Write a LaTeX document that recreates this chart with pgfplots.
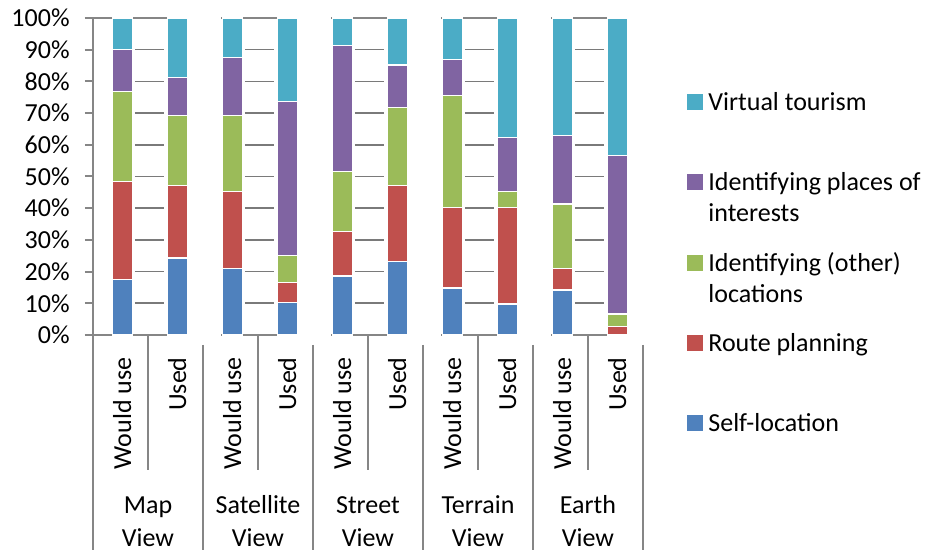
\documentclass[border=0pt]{standalone}
\usepackage{fontspec}
\setmainfont{Carlito}
\usepackage{pgfplots}
\usepackage{pgfplotstable}
\pgfplotsset{compat=1.18}
\definecolor{cSelf}{HTML}{4F81BD}
\definecolor{cRoute}{HTML}{C0504D}
\definecolor{cOther}{HTML}{9BBB59}
\definecolor{cPlaces}{HTML}{8064A2}
\definecolor{cVirtual}{HTML}{4BACC6}
\definecolor{axgray}{HTML}{868686}
\definecolor{gridgray}{HTML}{7A7A7A}
\pgfplotstableread{
x     self  route other places virtual
0.53  17.4  31.0  28.5  13.1   10.0
1.53  24.3  22.8  22.1  12.1   18.7
2.53  21.1  24.1  24.0  18.4   12.4
3.53  10.3   6.3   8.4  48.7   26.3
4.53  18.6  14.1  18.8  39.8    8.7
5.53  23.1  24.0  24.7  13.4   14.8
6.53  14.8  25.5  35.2  11.4   13.1
7.53   9.8  30.5   4.9  17.2   37.6
8.53  14.2   6.9  20.2  21.6   37.1
9.53   0.0   2.6   4.0  50.0   43.4
}\data
\newcommand{\lf}{\fontsize{13pt}{15.6pt}\selectfont}
\begin{document}
\begin{tikzpicture}[font=\lf]
\useasboundingbox (0,0) rectangle (464pt,275pt);
\begin{axis}[
  at={(46.5pt,107.5pt)}, anchor=south west,
  scale only axis, width=275pt, height=158.5pt,
  xmin=0, xmax=10, ymin=0, ymax=100,
  enlargelimits=false, clip=false,
  ybar stacked, bar width=0.364, bar shift=0pt,
  axis x line*=bottom, axis y line*=left,
  axis line style={draw=none},
  xtick={0.53,1.53,2.53,3.53,4.53,5.53,6.53,7.53,8.53,9.53},
  xticklabels={Would use,Used,Would use,Used,Would use,Used,Would use,Used,Would use,Used},
  xtick style={draw=none},
  xticklabel style={rotate=90, anchor=east, inner sep=0pt, font=\lf},
  xticklabel shift=7pt,
  ytick={0,10,...,100},
  yticklabel={\pgfmathprintnumber{\tick}\%},
  /pgf/number format/assume math mode=true,
  ytick style={draw=axgray, line width=1pt},
  tick align=outside, major tick length=4pt,
  yticklabel style={inner sep=0pt, font=\lf},
  yticklabel shift=7.5pt,
  every axis plot/.append style={draw=white, line width=0.6pt},
  legend image code/.code={\path[#1, draw=none] (0pt,0pt) rectangle (8pt,8pt);},
  reverse legend,
  legend style={draw=none, fill=none, at={(1.08,0.767)}, anchor=north west,
    inner sep=0pt, row sep=0pt, column sep=2.5pt,
    nodes={inner sep=0pt, text depth=31pt},
    cells={anchor=base west}, font=\lf},
]
\addplot[fill=cSelf] table[x=x, y=self] {\data};
\addlegendentry{\parbox[t]{125pt}{Self-location}}
\addplot[fill=cRoute] table[x=x, y=route] {\data};
\addlegendentry{\parbox[t]{125pt}{Route planning}}
\addplot[fill=cOther] table[x=x, y=other] {\data};
\addlegendentry{\parbox[t]{125pt}{Identifying (other)\\locations}}
\addplot[fill=cPlaces] table[x=x, y=places] {\data};
\addlegendentry{\parbox[t]{125pt}{Identifying places of\\interests}}
\addplot[fill=cVirtual] table[x=x, y=virtual] {\data};
\addlegendentry{\parbox[t]{125pt}{Virtual tourism}}
% axis and category lines
\draw[axgray, line width=1pt] (axis cs:0,100) -- (axis cs:0,-67.8);
\pgfplotsinvokeforeach{2,4,6,8,10}{
  \draw[axgray, line width=0.8pt] (axis cs:#1,-3.15) -- (axis cs:#1,-67.8);
}
\pgfplotsinvokeforeach{1,3,5,7,9}{
  \draw[axgray, line width=0.8pt] (axis cs:#1,0) -- (axis cs:#1,-42.6);
}
\draw[axgray, line width=1pt] (axis cs:-0.15,0) -- (axis cs:1.72,0);
\draw[axgray, line width=1.4pt] (axis cs:-0.15,100) -- (axis cs:1.72,100);
\pgfplotsinvokeforeach{2,4,6,8}{
  \draw[axgray, line width=1pt] (axis cs:#1+0.33,0) -- (axis cs:#1+1.72,0);
  \draw[axgray, line width=1.4pt] (axis cs:#1+0.33,100) -- (axis cs:#1+1.72,100);
}
\pgfplotsinvokeforeach{0,2,4,6,8}{
  \draw[gridgray, line width=0.8pt] \foreach \yy in {10,20,...,90}{ (axis cs:#1+0.76,\yy) -- (axis cs:#1+1.29,\yy) };
}
% group labels
\node[anchor=base, inner sep=0pt] at (axis cs:1,-56.2) {Map};
\node[anchor=base, inner sep=0pt] at (axis cs:3,-56.2) {Satellite};
\node[anchor=base, inner sep=0pt] at (axis cs:5,-56.2) {Street};
\node[anchor=base, inner sep=0pt] at (axis cs:7,-56.2) {Terrain};
\node[anchor=base, inner sep=0pt] at (axis cs:9,-56.2) {Earth};
\node[anchor=base, inner sep=0pt] at (axis cs:1,-66.6) {View};
\node[anchor=base, inner sep=0pt] at (axis cs:3,-66.6) {View};
\node[anchor=base, inner sep=0pt] at (axis cs:5,-66.6) {View};
\node[anchor=base, inner sep=0pt] at (axis cs:7,-66.6) {View};
\node[anchor=base, inner sep=0pt] at (axis cs:9,-66.6) {View};
\end{axis}
\end{tikzpicture}
\end{document}
